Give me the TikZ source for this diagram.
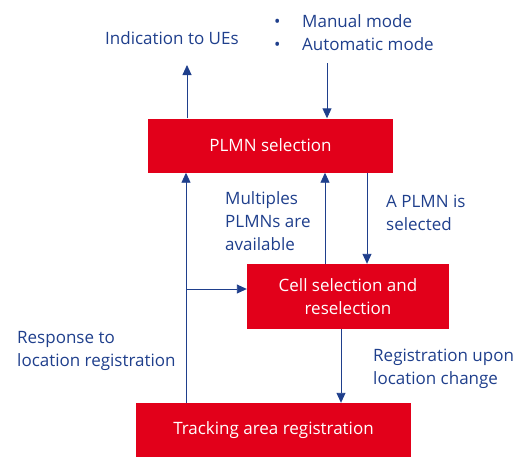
\documentclass[tikz,border=0pt]{standalone}
\usepackage{fontspec}
\setmainfont{Open Sans}
\usetikzlibrary{arrows.meta}
\definecolor{boxred}{HTML}{E2001A}
\definecolor{navy}{HTML}{1F3F8C}
\begin{document}
\begin{tikzpicture}[x=1pt,y=-1pt,
  redbox/.style={fill=boxred,draw=none,text=white,font=\fontsize{17}{23}\selectfont,align=center,inner sep=0pt},
  lbl/.style={text=navy,font=\fontsize{17}{23}\selectfont,align=left,inner sep=0pt},
  conn/.style={draw=navy,line width=0.9pt,-{Triangle[length=10pt,width=9pt]}}]
\useasboundingbox (0,0) rectangle (524,464);
% boxes
\node[redbox,minimum width=245pt,minimum height=54pt] (plmn) at (270.5,145.5) {PLMN selection};
\node[redbox,minimum width=202pt,minimum height=65pt] (cell) at (348,296.5) {Cell selection and\\reselection};
\node[redbox,minimum width=275pt,minimum height=54pt] (ta) at (273.5,430) {Tracking area registration};
% labels
\node[lbl,anchor=west] (ind) at (105,38) {Indication to UEs};
\node[lbl,anchor=west] (modes) at (274,33) {\makebox[28pt][l]{•}Manual mode\\\makebox[28pt][l]{•}Automatic mode};
\node[lbl,anchor=west] (mult) at (225,221) {Multiples\\PLMNs are\\available};
\node[lbl,anchor=west] (sel) at (386,213) {A PLMN is\\selected};
\node[lbl,anchor=west] (resp) at (17,351) {Response to\\location registration};
\node[lbl,anchor=west] (reg) at (373,369) {Registration upon\\location change};
% coordinates
\coordinate (indtip) at (187,65);
\coordinate (modestart) at (327,63);
\coordinate (branch) at (186,289);
% connectors
\draw[conn] (plmn.north -| indtip) -- (indtip);
\draw[conn] (modestart) -- (modestart |- plmn.north);
\draw[conn] (ta.north -| branch) -- (branch |- plmn.south);
\draw[conn] (branch) -- (branch -| cell.west);
\draw[conn] (cell.north -| 325,0) -- (325,0 |- plmn.south);
\draw[conn] (plmn.south -| 367,0) -- (367,0 |- cell.north);
\draw[conn] (cell.south -| 341,0) -- (341,0 |- ta.north);
\end{tikzpicture}
\end{document}
